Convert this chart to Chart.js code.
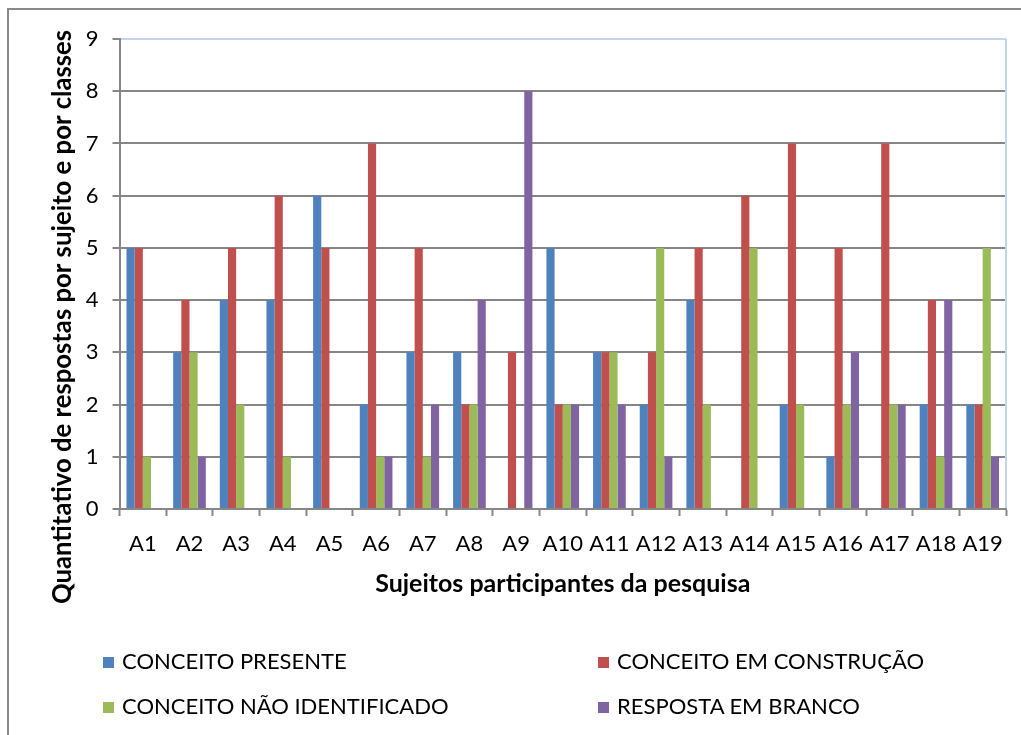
<!DOCTYPE html>
<html lang="pt">
<head>
<meta charset="utf-8">
<title>Quantitativo de respostas por sujeito e por classes</title>
<script src="https://cdn.jsdelivr.net/npm/chart.js@4.4.1/dist/chart.umd.min.js"></script>
<style>
  html, body { margin: 0; padding: 0; background: #ffffff; }
  #wrap { position: relative; width: 1021px; height: 735px; overflow: hidden; background: #ffffff; }
  #frame { position: absolute; left: 7px; top: 8px; width: 1100px; height: 800px; border: 2px solid #8a8a8a; box-sizing: border-box; }
  #chart { position: absolute; left: 0; top: 0; }
  .leg { position: absolute; font-family: Lato, "Liberation Sans", sans-serif; font-size: 22px; color: #000; line-height: 26px; white-space: nowrap; }
  .leg i { display: inline-block; width: 11px; height: 11px; margin-right: 8px; vertical-align: 1px; }
</style>
</head>
<body>
<div id="wrap">
  <div id="frame"></div>
  <canvas id="chart" width="1021" height="735"></canvas>
  <div id="legend"></div>
</div>
<script>
// Subjects (x categories)
const subjects = ['A1','A2','A3','A4','A5','A6','A7','A8','A9','A10','A11','A12','A13','A14','A15','A16','A17','A18','A19'];

// Answer classes
const classNames = ['CONCEITO PRESENTE', 'CONCEITO EM CONSTRUÇÃO', 'CONCEITO NÃO IDENTIFICADO', 'RESPOSTA EM BRANCO'];
const classColors = ['#4f81bd', '#c0504d', '#9bbb59', '#8064a2'];

// Number of answers per subject, one array per class
const conceitoPresente      = [5, 3, 4, 4, 6, 2, 3, 3, 0, 5, 3, 2, 4, 0, 2, 1, 0, 2, 2];
const conceitoEmConstrucao  = [5, 4, 5, 6, 5, 7, 5, 2, 3, 2, 3, 3, 5, 6, 7, 5, 7, 4, 2];
const conceitoNaoIdent      = [1, 3, 2, 1, 0, 1, 1, 2, 0, 2, 3, 5, 2, 5, 2, 2, 2, 1, 5];
const respostaEmBranco      = [0, 1, 0, 0, 0, 1, 2, 4, 8, 2, 2, 1, 0, 0, 0, 3, 2, 4, 1];

const seriesValues = [conceitoPresente, conceitoEmConstrucao, conceitoNaoIdent, respostaEmBranco];

const xTitle = 'Sujeitos participantes da pesquisa';
const yTitle = 'Quantitativo de respostas por sujeito e por classes';

const axisGray = '#868686';
const frameBlue = '#c3d5ea';
const fontFamily = 'Lato, "Liberation Sans", sans-serif';

// Light-blue right edge of the plot area and the vertical axis title
const plotExtras = {
  id: 'plotExtras',
  afterDraw(chart) {
    const { ctx, chartArea } = chart;
    ctx.save();
    ctx.strokeStyle = frameBlue;
    ctx.lineWidth = 2;
    ctx.beginPath();
    ctx.moveTo(chartArea.right, chartArea.top);
    ctx.lineTo(chartArea.right, chartArea.bottom - 1);
    ctx.stroke();

    ctx.translate(63, 317);
    ctx.rotate(-Math.PI / 2);
    ctx.fillStyle = '#000';
    ctx.font = 'bold 25.7px ' + fontFamily;
    ctx.textAlign = 'center';
    ctx.textBaseline = 'middle';
    ctx.fillText(yTitle, 0, 0);
    ctx.restore();
  }
};

new Chart(document.getElementById('chart'), {
  type: 'bar',
  data: {
    labels: subjects,
    datasets: seriesValues.map((vals, i) => ({
      label: classNames[i],
      data: vals,
      backgroundColor: classColors[i],
      borderWidth: 0,
      categoryPercentage: 0.7,
      barPercentage: 1.0
    }))
  },
  options: {
    responsive: false,
    animation: false,
    layout: { padding: { left: 40, right: 15, top: 39, bottom: 136 } },
    plugins: {
      legend: { display: false },
      tooltip: { enabled: false }
    },
    scales: {
      x: {
        afterFit(scale) { scale.height = 90; },
        grid: {
          drawOnChartArea: false,
          drawTicks: true,
          tickLength: 7,
          tickColor: axisGray,
          tickWidth: 2,
          offset: true
        },
        border: { color: axisGray, width: 2 },
        ticks: {
          color: '#000',
          padding: 15,
          maxRotation: 0,
          autoSkip: false,
          font: { family: fontFamily, size: 22 }
        },
        title: {
          display: true,
          text: xTitle,
          color: '#000',
          padding: { top: 0, bottom: 0 },
          font: { family: fontFamily, size: 25, weight: 'bold' }
        }
      },
      y: {
        min: 0,
        max: 9,
        afterFit(scale) { scale.width = 79.5; },
        grid: {
          color: ctx => (ctx.tick && ctx.tick.value === 9 ? frameBlue : axisGray),
          lineWidth: 2,
          tickLength: 7,
          tickColor: axisGray,
          tickWidth: 2
        },
        border: { color: axisGray, width: 2 },
        ticks: {
          stepSize: 1,
          color: '#000',
          padding: 14,
          font: { family: fontFamily, size: 22 }
        },
        title: { display: false }
      }
    }
  },
  plugins: [plotExtras]
});

// Two-column legend below the chart
const legendPos = [[103, 648], [598, 648], [103, 693], [598, 693]];
const legend = document.getElementById('legend');
classNames.forEach((name, i) => {
  const d = document.createElement('div');
  d.className = 'leg';
  d.style.left = legendPos[i][0] + 'px';
  d.style.top = legendPos[i][1] + 'px';
  const sw = document.createElement('i');
  sw.style.background = classColors[i];
  d.appendChild(sw);
  d.appendChild(document.createTextNode(name));
  legend.appendChild(d);
});
</script>
</body>
</html>
